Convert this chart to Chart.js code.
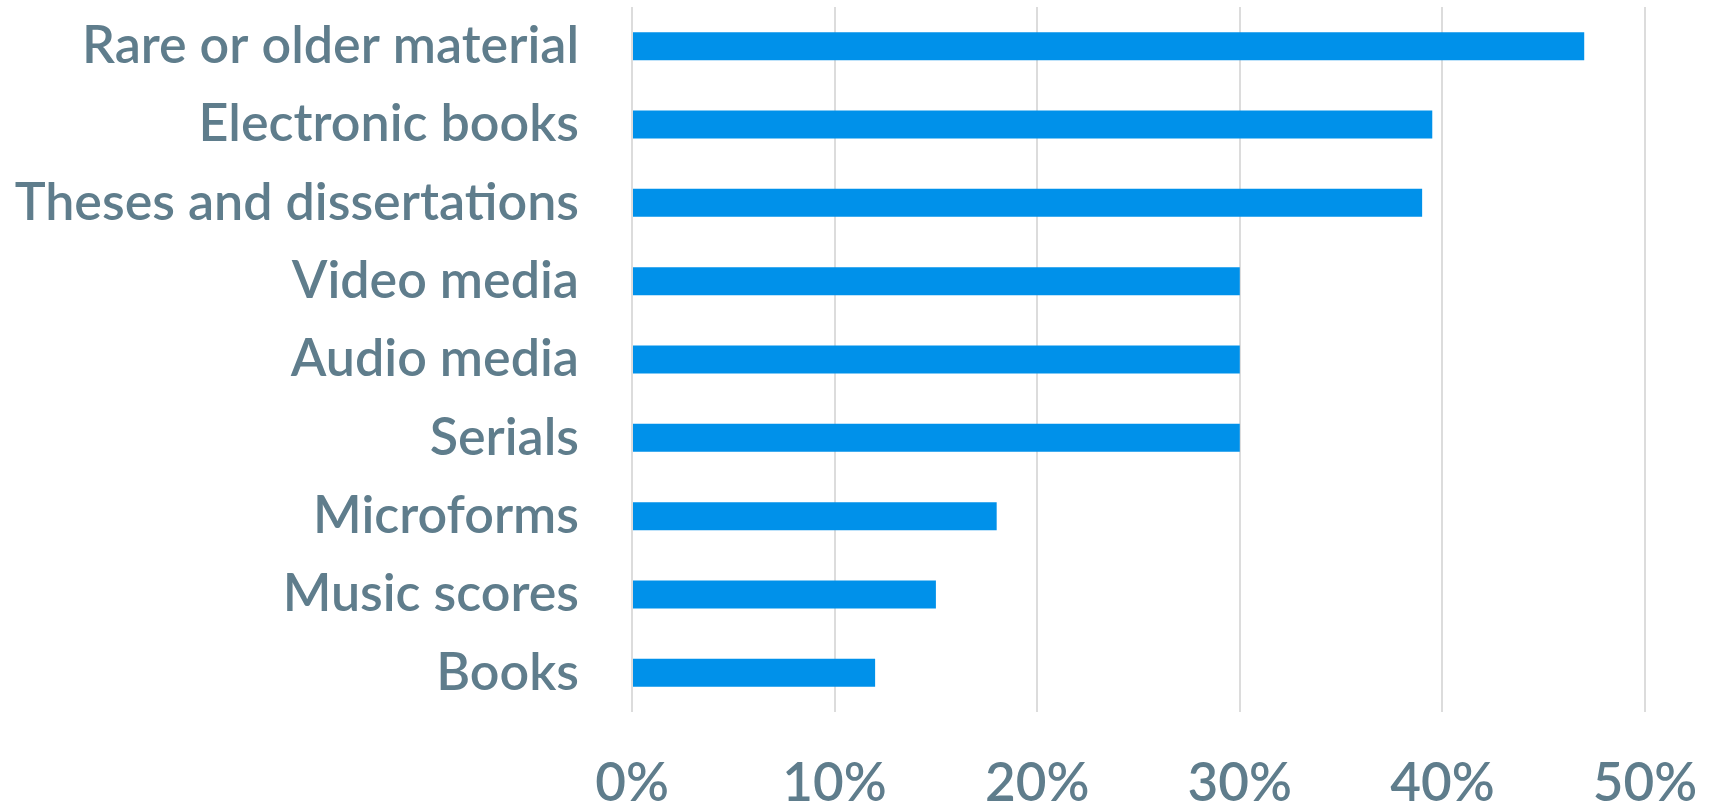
<!DOCTYPE html>
<html>
<head>
<meta charset="utf-8">
<script src="https://cdn.jsdelivr.net/npm/chart.js@4"></script>
<style>
html,body{margin:0;padding:0;background:#fff;}
#wrap{width:1714px;height:805px;position:relative;}
</style>
</head>
<body>
<div id="wrap"><canvas id="c" width="1714" height="805"></canvas></div>
<script>
const categories = ["Rare or older material","Electronic books","Theses and dissertations","Video media","Audio media","Serials","Microforms","Music scores","Books"];
const values = [47, 39.5, 39, 30, 30, 30, 18, 15, 12];
const xTicks = [0, 10, 20, 30, 40, 50];

const labelColor = '#5f7d8c';
const fontFamily = 'Lato, "Open Sans", sans-serif';

new Chart(document.getElementById('c'), {
  type: 'bar',
  data: {
    labels: categories,
    datasets: [{
      data: values,
      backgroundColor: '#0091ea',
      borderWidth: 0,
      barPercentage: 0.357,
      categoryPercentage: 1.0
    }]
  },
  options: {
    indexAxis: 'y',
    responsive: false,
    animation: false,
    devicePixelRatio: 1,
    layout: { padding: { left: 0, right: 69, top: 7, bottom: 0 } },
    plugins: { legend: { display: false }, tooltip: { enabled: false } },
    scales: {
      x: {
        min: 0, max: 50,
        afterBuildTicks: (s) => { s.ticks = xTicks.map(v => ({ value: v })); },
        ticks: {
          callback: (v) => v + '%',
          color: labelColor,
          font: { family: fontFamily, size: 53, weight: '600' },
          padding: 40,
          maxRotation: 0
        },
        grid: { color: '#dcdcdc', lineWidth: 2, drawTicks: false },
        border: { display: false },
        afterFit: (s) => { s.height = 93; s.paddingLeft = 0; s.paddingRight = 0; s.paddingTop = 0; s.paddingBottom = 0; }
      },
      y: {
        ticks: {
          color: labelColor,
          font: { family: fontFamily, size: 52, weight: '600' },
          padding: 53
        },
        grid: { display: false, drawTicks: false },
        border: { display: false },
        afterFit: (s) => { s.width = 632; s.paddingTop = 0; s.paddingBottom = 0; s.paddingLeft = 0; s.paddingRight = 0; }
      }
    }
  }
});
</script>
</body>
</html>
